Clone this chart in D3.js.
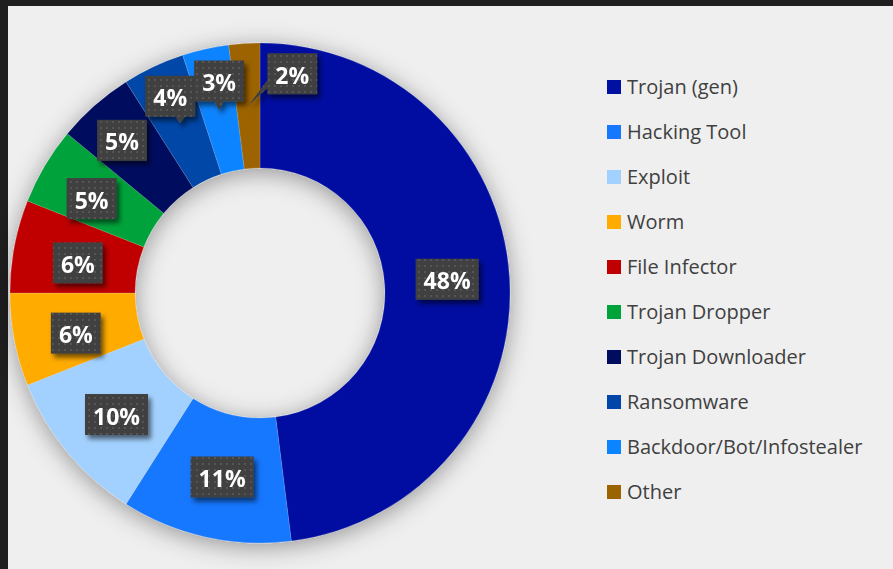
<!DOCTYPE html>
<html>
<head>
<meta charset="utf-8">
<script src="https://cdn.jsdelivr.net/npm/d3@7"></script>
<style>
  html, body { margin: 0; padding: 0; background: #efefef; }
  svg { display: block; }
</style>
</head>
<body>
<svg id="chart" width="893" height="569"></svg>
<script>
// Malware family share (%), clockwise from 12 o'clock
const categories = ["Trojan (gen)", "Hacking Tool", "Exploit", "Worm", "File Infector",
  "Trojan Dropper", "Trojan Downloader", "Ransomware", "Backdoor/Bot/Infostealer", "Other"];
const values = [48, 11, 10, 6, 6, 5, 5, 4, 3, 2];
const colors = ["#0010a0", "#1677ff", "#a3d1ff", "#ffab00", "#c00000",
  "#00a33a", "#000c5e", "#0046a8", "#0a84ff", "#9c6400"];
// label box nudges from the slice centroid; callouts keep a pointer back to the centroid
const labelShift = [[0, -2], [3, 1], [1, 2], [0, 5], [2, 5], [-7, 1], [-14, -12], [-10, -27], [0, -29], [44, -32]];
const isCallout = [false, false, false, false, false, false, false, true, true, true];

const W = 893, H = 569;
const cx = 260, cy = 293, R = 250, r0 = 125;
const FONT = "'Open Sans', 'Noto Sans', sans-serif";

const svg = d3.select("#chart");
const defs = svg.append("defs");

// soft shadow under the ring
const ringShadow = defs.append("filter").attr("id", "ringShadow")
  .attr("x", "-20%").attr("y", "-20%").attr("width", "140%").attr("height", "140%");
ringShadow.append("feDropShadow").attr("dx", 0).attr("dy", 4)
  .attr("stdDeviation", 12).attr("flood-color", "#000").attr("flood-opacity", 0.38);

// shadow for label boxes
const boxShadow = defs.append("filter").attr("id", "boxShadow")
  .attr("x", "-30%").attr("y", "-30%").attr("width", "170%").attr("height", "170%");
boxShadow.append("feDropShadow").attr("dx", 3).attr("dy", 4)
  .attr("stdDeviation", 2.5).attr("flood-color", "#000").attr("flood-opacity", 0.55);

// dotted fill for label boxes
const dots = defs.append("pattern").attr("id", "dots")
  .attr("patternUnits", "userSpaceOnUse").attr("width", 6).attr("height", 6);
dots.append("rect").attr("width", 6).attr("height", 6).attr("fill", "#404040");
dots.append("rect").attr("x", 2).attr("y", 2).attr("width", 2).attr("height", 2).attr("fill", "#545454");

// background and dark frame
svg.append("rect").attr("width", W).attr("height", H).attr("fill", "#efefef");
svg.append("rect").attr("width", W).attr("height", 6).attr("fill", "#1f1f1f");
svg.append("rect").attr("width", 8).attr("height", H).attr("fill", "#1f1f1f");

const pie = d3.pie().value(d => d).sort(null);
const arcs = pie(values);
const arc = d3.arc().innerRadius(r0).outerRadius(R);
const mid = d3.arc().innerRadius((R + r0) / 2).outerRadius((R + r0) / 2);

const g = svg.append("g").attr("transform", `translate(${cx},${cy})`);
g.append("g").attr("filter", "url(#ringShadow)")
  .selectAll("path").data(arcs).join("path")
  .attr("d", arc)
  .attr("fill", (d, i) => colors[i])
  .attr("stroke", "#efefef").attr("stroke-opacity", 0.25).attr("stroke-width", 0.6);

// data labels
const labels = g.append("g");
arcs.forEach((d, i) => {
  const [tx, ty] = mid.centroid(d);
  const bx = tx + labelShift[i][0], by = ty + labelShift[i][1];
  const lg = labels.append("g").attr("filter", "url(#boxShadow)");
  const txt = lg.append("text")
    .attr("x", bx).attr("y", by + 1)
    .attr("text-anchor", "middle").attr("dominant-baseline", "central")
    .attr("font-family", FONT)
    .attr("font-weight", 700).attr("font-size", 23)
    .attr("fill", "#ffffff")
    .text(values[i] + "%");
  const tw = txt.node().getComputedTextLength();
  const bw = tw + 16, bh = 41;
  const left = bx - bw / 2, top = by - bh / 2, right = left + bw, bottom = top + bh;
  let shape;
  if (isCallout[i]) {
    let p;
    if (ty > bottom && tx >= left && tx <= right) {
      const bxm = Math.max(left + 8, Math.min(right - 8, tx));
      p = [[left, top], [right, top], [right, bottom], [bxm + 5, bottom], [tx, ty], [bxm - 5, bottom], [left, bottom]];
    } else if (tx < left) {
      p = [[left, top], [right, top], [right, bottom], [left, bottom], [left, bottom - 6], [tx, ty], [left, bottom - 14]];
    } else {
      p = [[left, top], [right, top], [right, bottom], [left, bottom]];
    }
    shape = lg.insert("path", "text").attr("d", "M" + p.map(q => q.join(",")).join("L") + "Z");
  } else {
    shape = lg.insert("rect", "text").attr("x", left).attr("y", top).attr("width", bw).attr("height", bh);
  }
  shape.attr("fill", "url(#dots)");
});

// legend
const legend = svg.append("g").attr("transform", "translate(607,87)");
const item = legend.selectAll("g").data(categories).join("g")
  .attr("transform", (d, i) => `translate(0,${i * 45})`);
item.append("rect").attr("x", 0).attr("y", -7).attr("width", 14).attr("height", 14)
  .attr("fill", (d, i) => colors[i]);
item.append("text").attr("x", 20).attr("y", -0.5)
  .attr("dominant-baseline", "central")
  .attr("font-family", FONT)
  .attr("font-size", 20).attr("fill", "#404040")
  .text(d => d);
</script>
</body>
</html>
